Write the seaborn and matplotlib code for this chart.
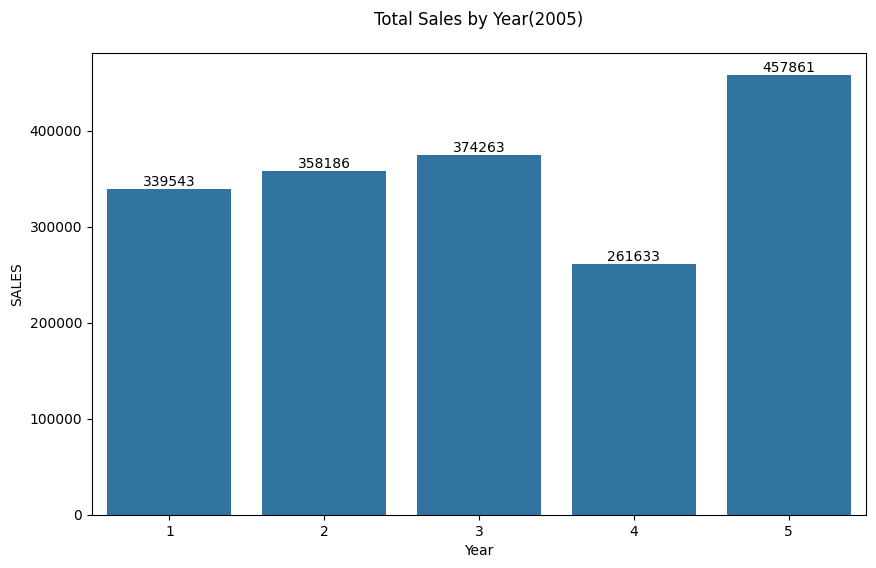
import matplotlib
matplotlib.use("Agg")
import matplotlib.pyplot as plt
import seaborn as sns
import pandas as pd

months = [1, 2, 3, 4, 5]
sales = [339543, 358186, 374263, 261633, 457861]

df = pd.DataFrame({"Year": months, "SALES": sales})

fig = plt.figure(figsize=(8.76, 5.68), dpi=100)
ax = fig.add_axes([92/876, 1-515/568, (866-92)/876, (515-53)/568])
sns.barplot(data=df, x="Year", y="SALES", color="#1f77b4", ax=ax)
for c in ax.containers:
    ax.bar_label(c, fmt="%d")
ax.set_title("Total Sales by Year(2005)", pad=20)
fig.savefig("out.png", dpi=100)
